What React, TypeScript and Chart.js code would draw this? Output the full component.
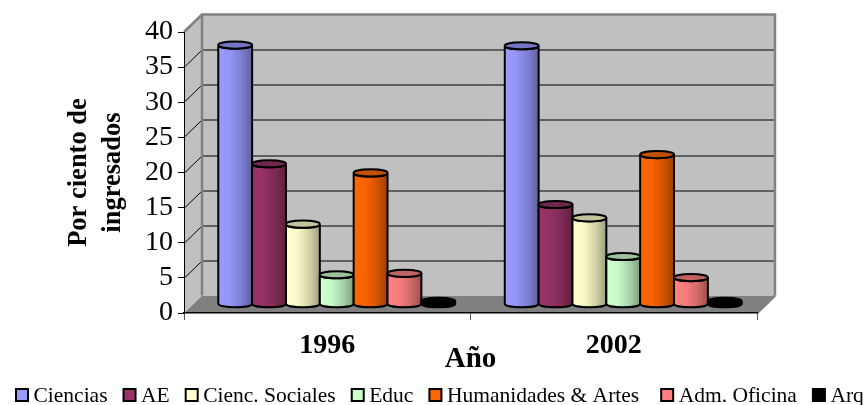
import React, { useEffect, useRef } from "react";
import { Chart, registerables } from "chart.js";

Chart.register(...registerables);

const years = ["1996", "2002"];
const ciencias = [36.9, 36.8];
const ae = [20.0, 14.2];
const sociales = [11.4, 12.3];
const educ = [4.2, 6.8];
const humanidades = [18.7, 21.3];
const oficina = [4.4, 3.8];
const arq = [0.4, 0.4];

const names = ["Ciencias", "AE", "Cienc. Sociales", "Educ", "Humanidades & Artes", "Adm. Oficina", "Arq"];
const colors = ["#9999FF", "#993366", "#FFFFCC", "#CCFFCC", "#FF6600", "#FF8080", "#000000"];
const seriesValues = [ciencias, ae, sociales, educ, humanidades, oficina, arq];
const yTicks = [0, 5, 10, 15, 20, 25, 30, 35, 40];

const SERIF = "'Liberation Serif', 'Times New Roman', serif";
const DX = 18;
const DY = 17.5;

function shade(hex: string, k: number) {
  const n = parseInt(hex.slice(1), 16);
  const f = (v: number) => Math.max(0, Math.min(255, Math.round(v * k)));
  return `rgb(${f((n >> 16) & 255)},${f((n >> 8) & 255)},${f(n & 255)})`;
}

const scenePlugin = {
  id: "scene",
  beforeDraw(chart: any) {
    const { ctx, chartArea: a, scales } = chart;
    const { left: l, right: r, top: t, bottom: b } = a;
    ctx.save();
    ctx.fillStyle = "#808080";
    ctx.beginPath();
    ctx.moveTo(l, b);
    ctx.lineTo(r, b);
    ctx.lineTo(r + DX, b - DY);
    ctx.lineTo(l + DX, b - DY);
    ctx.closePath();
    ctx.fill();
    ctx.fillStyle = "#C0C0C0";
    ctx.beginPath();
    ctx.moveTo(l, b);
    ctx.lineTo(l + DX, b - DY);
    ctx.lineTo(l + DX, t - DY);
    ctx.lineTo(l, t);
    ctx.closePath();
    ctx.fill();
    ctx.fillRect(l + DX, t - DY, r - l, b - t);
    ctx.strokeStyle = "#000000";
    ctx.lineWidth = 1;
    for (const v of yTicks) {
      if (v === 0 || v === 40) continue;
      const y = Math.round(scales.y.getPixelForValue(v)) + 0.5;
      ctx.beginPath();
      ctx.moveTo(l, y);
      ctx.lineTo(l + DX, y - DY);
      ctx.lineTo(r + DX, y - DY);
      ctx.stroke();
    }
    ctx.strokeStyle = "#808080";
    ctx.lineWidth = 2.5;
    ctx.beginPath();
    ctx.moveTo(l, t);
    ctx.lineTo(l + DX, t - DY);
    ctx.lineTo(r + DX, t - DY);
    ctx.lineTo(r + DX, b - DY);
    ctx.moveTo(l + DX, t - DY);
    ctx.lineTo(l + DX, b - DY);
    ctx.moveTo(r, b);
    ctx.lineTo(r + DX, b - DY);
    ctx.stroke();
    ctx.restore();
  },
  beforeDatasetsDraw(chart: any) {
    const { ctx } = chart;
    ctx.save();
    chart.data.datasets.forEach((ds: any, i: number) => {
      const col = ds.backgroundColor as string;
      chart.getDatasetMeta(i).data.forEach((bar: any) => {
        const cx = bar.x + DX / 2 + 0.5;
        const rx = bar.width / 2;
        const ry = 3.6;
        const top = bar.y - DY / 2;
        const base = bar.base - DY / 2;
        const g = ctx.createLinearGradient(cx - rx, 0, cx + rx, 0);
        g.addColorStop(0, shade(col, 1.02));
        g.addColorStop(0.35, shade(col, 0.97));
        g.addColorStop(0.7, shade(col, 0.82));
        g.addColorStop(1, shade(col, 0.62));
        ctx.beginPath();
        ctx.moveTo(cx - rx, top);
        ctx.lineTo(cx - rx, base);
        ctx.ellipse(cx, base, rx, ry, 0, Math.PI, 0, true);
        ctx.lineTo(cx + rx, top);
        ctx.ellipse(cx, top, rx, ry, 0, 0, Math.PI, false);
        ctx.closePath();
        ctx.fillStyle = g;
        ctx.fill();
        ctx.strokeStyle = "#000000";
        ctx.lineWidth = 2;
        ctx.stroke();
        ctx.beginPath();
        ctx.ellipse(cx, top, rx, ry, 0, 0, Math.PI * 2);
        ctx.fillStyle = shade(col, 0.76);
        ctx.fill();
        ctx.stroke();
      });
    });
    ctx.restore();
    return false;
  },
  afterDraw(chart: any) {
    const { ctx } = chart;
    ctx.save();
    ctx.font = `21.5px ${SERIF}`;
    ctx.textBaseline = "middle";
    ctx.textAlign = "left";
    const extra = [0, 0, 0, 0, 6, 0, 0];
    let x = 16;
    const yc = 396;
    chart.data.datasets.forEach((ds: any, i: number) => {
      ctx.fillStyle = ds.backgroundColor;
      ctx.strokeStyle = "#000000";
      ctx.lineWidth = 2;
      ctx.fillRect(x, yc - 7, 12, 12);
      ctx.strokeRect(x, yc - 7, 12, 12);
      ctx.fillStyle = "#000000";
      ctx.fillText(ds.label, x + 17.5, yc);
      x += 17.5 + ctx.measureText(ds.label).width + 16 + extra[i];
    });
    ctx.restore();
  },
};

export default function App() {
  const ref = useRef<HTMLCanvasElement>(null);
  useEffect(() => {
    document.body.style.margin = "0";
    const chart = new Chart(ref.current!, {
      type: "bar",
      data: {
        labels: years,
        datasets: names.map((label, i) => ({
          label,
          data: seriesValues[i],
          backgroundColor: colors[i],
          borderColor: "#000000",
        })),
      },
      options: {
        responsive: false,
        animation: false,
        layout: { padding: { left: 0, right: 108, top: 32, bottom: 0 } },
        datasets: { bar: { barPercentage: 1, categoryPercentage: 0.827 } },
        plugins: { legend: { display: false }, tooltip: { enabled: false }, title: { display: false } },
        scales: {
          x: {
            grid: { drawOnChartArea: false, drawTicks: true, tickLength: 7, color: "#555555" },
            border: { color: "#000000", width: 1.5 },
            ticks: {
              color: "#000000",
              maxRotation: 0,
              padding: 9,
              font: { family: SERIF, size: 28, weight: "bold" },
            },
            title: {
              display: true,
              text: "Año",
              color: "#000000",
              font: { family: SERIF, size: 29, weight: "bold" },
              padding: { top: 0, bottom: 28 },
            },
            afterFit: (s: any) => {
              s.height = 92;
            },
          },
          y: {
            min: 0,
            max: 40,
            grid: { drawOnChartArea: false, drawTicks: true, tickLength: 6, color: "#000000" },
            border: { color: "#000000", width: 1 },
            ticks: {
              color: "#000000",
              stepSize: 5,
              autoSkip: false,
              padding: 5,
              font: { family: SERIF, size: 28 },
            },
            title: {
              display: true,
              text: ["Por ciento de", "ingresados"],
              color: "#000000",
              font: { family: SERIF, size: 26.5, weight: "bold", lineHeight: 1.28 },
              padding: { top: 62, bottom: 0 },
            },
            afterFit: (s: any) => {
              s.width = 184;
            },
          },
        },
      },
      plugins: [scenePlugin],
    } as any);
    return () => chart.destroy();
  }, []);
  return (
    <canvas
      ref={ref}
      width={865}
      height={405}
      style={{ display: "block", width: 865, height: 405 }}
    />
  );
}
